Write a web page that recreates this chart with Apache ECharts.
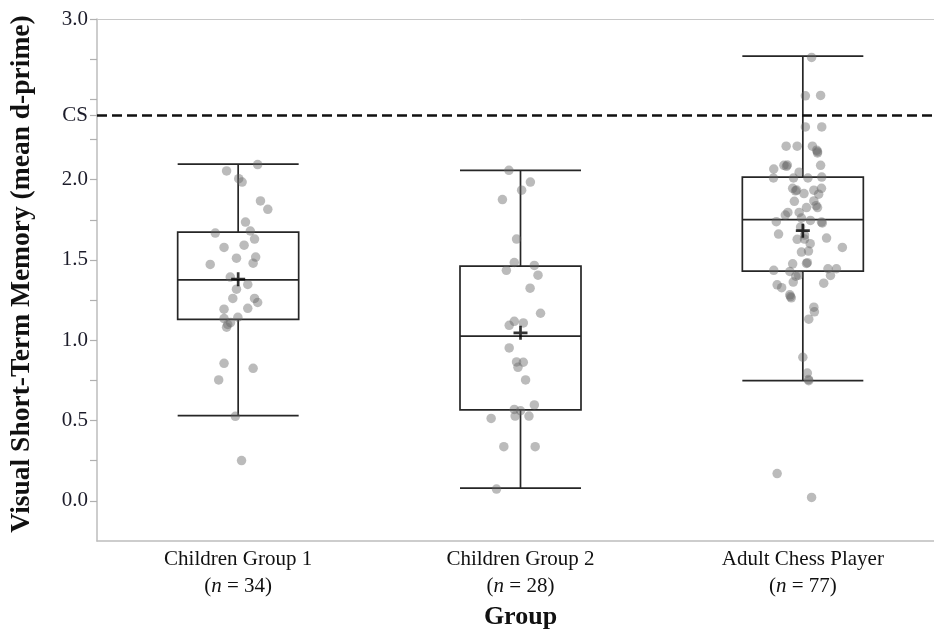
<!DOCTYPE html>
<html>
<head>
<meta charset="utf-8">
<script src="https://cdn.jsdelivr.net/npm/echarts@6/dist/echarts.min.js"></script>
<style>
html,body{margin:0;padding:0;background:#fff;overflow:hidden;width:934px;height:629px;}
#chart{width:944px;height:629px;}
</style>
</head>
<body>
<div id="chart"></div>
<script>
// ---------- data ----------
const categories = ['Children Group 1', 'Children Group 2', 'Adult Chess Player'];
const groupN = [34, 28, 77];
// [lower whisker, Q1, median, Q3, upper whisker]
const boxStats = [
  [0.53, 1.13, 1.376, 1.673, 2.096],
  [0.079, 0.566, 1.025, 1.461, 2.058],
  [0.748, 1.430, 1.751, 2.015, 2.769]
];
const groupMeans = [1.38, 1.046, 1.682];
const csValue = 2.4;
const csLabel = 'CS';
const yTickValues = [0, 0.25, 0.5, 0.75, 1, 1.25, 1.5, 1.75, 2, 2.25, 2.4, 2.5, 2.75, 3];
const yLabelValues = [0, 0.5, 1, 1.5, 2, 2.4, 3];

// individual participants: value and horizontal jitter (in category units)
const g1Values = [2.094, 2.054, 2.006, 1.985, 1.867, 1.815, 1.736, 1.667, 1.680, 1.630, 1.578, 1.592, 1.511, 1.518, 1.480, 1.472, 1.393, 1.347, 1.318, 1.260, 1.260, 1.235, 1.193, 1.199, 1.135, 1.143, 1.098, 1.110, 1.081, 0.856, 0.825, 0.753, 0.526, 0.251];
const g1Jitter = [0.069, -0.041, 0.002, 0.014, 0.079, 0.105, 0.026, -0.081, 0.043, 0.058, -0.050, 0.021, -0.006, 0.062, 0.053, -0.099, -0.028, 0.034, -0.006, -0.019, 0.058, 0.069, -0.050, 0.034, -0.050, -0.001, -0.037, -0.027, -0.041, -0.050, 0.053, -0.069, -0.010, 0.012];

const g2Values = [2.058, 1.985, 1.934, 1.876, 1.630, 1.484, 1.435, 1.466, 1.405, 1.324, 1.168, 1.118, 1.093, 1.108, 0.952, 0.865, 0.863, 0.831, 0.753, 0.597, 0.569, 0.561, 0.528, 0.528, 0.513, 0.337, 0.337, 0.073];
const g2Jitter = [-0.041, 0.035, 0.004, -0.064, -0.014, -0.022, -0.050, 0.049, 0.062, 0.034, 0.071, -0.022, -0.040, 0.010, -0.040, -0.014, 0.010, -0.009, 0.018, 0.049, -0.022, 0.000, -0.019, 0.030, -0.104, -0.059, 0.052, -0.085];

const g3Values = [2.761, 2.522, 2.524, 2.328, 2.328, 2.208, 2.208, 2.208, 2.183, 2.166, 2.066, 2.089, 2.091, 2.089, 2.046, 2.010, 2.010, 2.010, 2.016, 1.946, 1.935, 1.913, 1.934, 1.946, 1.909, 1.865, 1.867, 1.838, 1.826, 1.826, 1.796, 1.779, 1.796, 1.761, 1.746, 1.736, 1.730, 1.738, 1.705, 1.661, 1.655, 1.628, 1.630, 1.636, 1.601, 1.549, 1.555, 1.578, 1.483, 1.476, 1.435, 1.428, 1.445, 1.445, 1.403, 1.399, 1.405, 1.362, 1.345, 1.327, 1.355, 1.283, 1.264, 1.206, 1.177, 1.131, 0.894, 0.796, 0.748, 0.170, 0.021, 2.083, 1.930, 2.174, 1.478, 1.272, 0.755];
const g3Jitter = [0.031, 0.009, 0.063, 0.009, 0.067, -0.059, -0.020, 0.034, 0.049, 0.052, -0.103, -0.067, -0.055, 0.063, -0.013, -0.104, -0.033, 0.018, 0.067, -0.036, -0.022, 0.004, 0.039, 0.066, 0.056, -0.030, 0.039, 0.047, 0.013, 0.052, -0.053, -0.062, -0.013, -0.005, 0.027, 0.066, 0.069, -0.094, -0.008, -0.086, 0.006, -0.020, 0.006, 0.084, 0.026, -0.005, 0.020, 0.140, 0.016, -0.036, -0.103, -0.046, 0.089, 0.119, 0.098, -0.025, -0.015, -0.034, -0.091, -0.075, 0.074, -0.046, -0.041, 0.039, 0.041, 0.021, 0.000, 0.016, 0.021, -0.091, 0.031, -0.058, -0.026, 0.052, 0.013, -0.044, 0.020];

// ---------- build ----------
const groupValues = [g1Values, g2Values, g3Values];
const groupJitter = [g1Jitter, g2Jitter, g3Jitter];
const pointData = [];
groupValues.forEach((vals, gi) => {
  vals.forEach((v, i) => pointData.push([gi + groupJitter[gi][i], v]));
});
const meanData = groupMeans.map((m, gi) => [gi, m]);

const SERIF = '"Liberation Serif", "Times New Roman", serif';
const chart = echarts.init(document.getElementById('chart'), null, {renderer: 'canvas'});

chart.setOption({
  animation: false,
  backgroundColor: '#ffffff',
  grid: {
    left: 97, top: 19, right: 0, bottom: 88,
    containLabel: false,
    outerBoundsMode: 'none',
    show: false
  },
  xAxis: [
    {
      type: 'category',
      data: categories,
      boundaryGap: true,
      axisLine: {show: true, onZero: false, lineStyle: {color: '#bdbdbd', width: 1.5}},
      axisTick: {show: false},
      splitLine: {show: false},
      axisLabel: {
        margin: 5,
        interval: 0,
        formatter: (val, idx) => '{a|' + val + '}\n{a|(}{i|n}{a| = ' + groupN[idx] + ')}',
        rich: {
          a: {fontFamily: SERIF, fontSize: 21, color: '#111', lineHeight: 27},
          i: {fontFamily: SERIF, fontSize: 21, color: '#111', fontStyle: 'italic', lineHeight: 27}
        }
      },
      name: 'Group',
      nameLocation: 'middle',
      nameGap: 63,
      nameTextStyle: {fontFamily: SERIF, fontSize: 26, fontWeight: 'bold', color: '#111'}
    },
    {
      type: 'value',
      min: -0.5, max: 2.5,
      position: 'top',
      axisLine: {show: true, onZero: false, lineStyle: {color: '#c8c8c8', width: 1}},
      axisTick: {show: false},
      axisLabel: {show: false},
      splitLine: {show: false}
    }
  ],
  yAxis: {
    type: 'value',
    min: -0.25, max: 3,
    axisLine: {show: true, onZero: false, lineStyle: {color: '#bdbdbd', width: 1.5}},
    axisTick: {show: true, length: 7, customValues: yTickValues, lineStyle: {color: '#b0b0b0', width: 1.2}},
    splitLine: {show: false},
    axisLabel: {
      customValues: yLabelValues,
      margin: 9,
      fontFamily: SERIF, fontSize: 21, color: '#1c1c2a',
      formatter: v => (Math.abs(v - csValue) < 1e-9 ? csLabel : v.toFixed(1))
    },
    name: 'Visual Short-Term Memory (mean d-prime)',
    nameLocation: 'middle',
    nameGap: 61,
    nameTextStyle: {fontFamily: SERIF, fontSize: 27.5, fontWeight: 'bold', color: '#111', padding: [0, 0, 0, 12]}
  },
  series: [
    {
      type: 'boxplot',
      xAxisIndex: 0,
      boxWidth: [121, 121],
      data: boxStats,
      itemStyle: {color: 'rgba(255,255,255,0)', borderColor: '#262626', borderWidth: 1.7},
      emphasis: {disabled: true},
      silent: true,
      markLine: {
        silent: true,
        symbol: ['none', 'none'],
        label: {show: false},
        lineStyle: {color: '#111', type: [10, 5], width: 2.5},
        data: [{yAxis: csValue}]
      }
    },
    {
      type: 'scatter',
      xAxisIndex: 1,
      data: pointData,
      symbol: 'circle',
      symbolSize: 9.5,
      itemStyle: {color: 'rgba(100,100,100,0.55)'},
      emphasis: {disabled: true},
      silent: true
    },
    {
      type: 'scatter',
      xAxisIndex: 1,
      data: meanData,
      symbol: 'path://M5.25,0H7.75V5.25H13V7.75H7.75V13H5.25V7.75H0V5.25H5.25Z',
      symbolSize: 14,
      itemStyle: {color: '#000'},
      z: 5,
      emphasis: {disabled: true},
      silent: true
    }
  ]
});
</script>
</body>
</html>
